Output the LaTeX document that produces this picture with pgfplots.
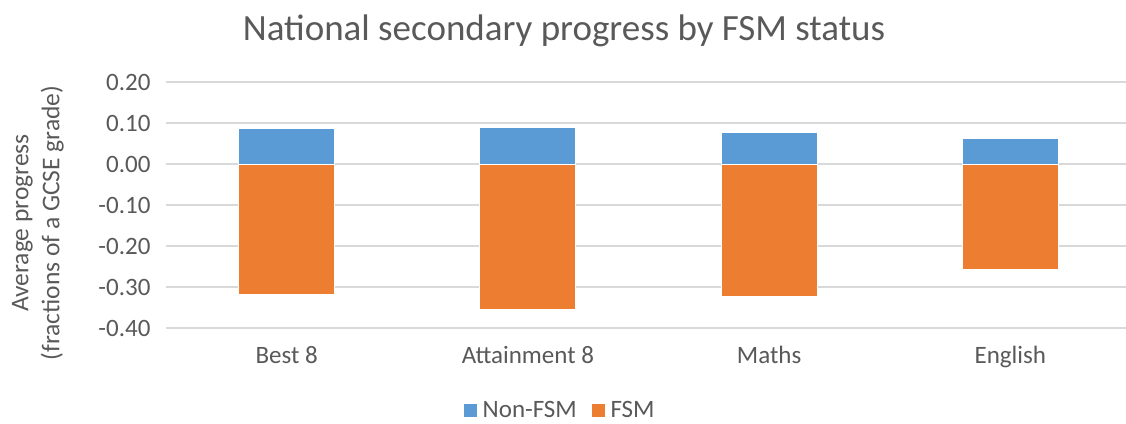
\documentclass[border=0pt]{standalone}
\usepackage{fontspec}
\setmainfont{Carlito}
\usepackage{pgfplots}
\pgfplotsset{compat=1.18}
\definecolor{nonfsm}{HTML}{5B9BD5}
\definecolor{fsm}{HTML}{ED7D31}
\definecolor{txt}{HTML}{595959}
\definecolor{gridc}{HTML}{D9D9D9}

\begin{document}
\begin{tikzpicture}
\path[use as bounding box] (-166pt,-95pt) rectangle (960pt,328pt);
\begin{axis}[
    scale only axis,
    width=965pt, height=246pt,
    at={(0pt,0pt)}, anchor=south west,
    ybar, bar width=96pt, bar shift=0pt,
    ymin=-0.4, ymax=0.2,
    ytick={-0.4,-0.3,-0.2,-0.1,0,0.1,0.2},
    xmin=-0.5, xmax=3.5,
    xtick={0,1,2,3},
    xticklabels={Best 8, Attainment 8, Maths, English},
    axis line style={draw=none},
    major tick length=0pt,
    ymajorgrids,
    grid style={gridc, line width=1.3pt},
    tick label style={font=\fontsize{25}{30}\selectfont, text=txt},
    yticklabel style={xshift=-12pt,
        /pgf/number format/.cd, fixed, fixed zerofill, precision=2,
        assume math mode=true},
    xticklabel style={yshift=-15pt},
    legend columns=2,
    legend style={draw=none, at={(0.408,-0.335)}, anchor=center,
        font=\fontsize{25}{30}\selectfont, text=txt,
        /tikz/every even column/.append style={column sep=12pt}},
    legend image code/.code={
        \fill[#1] (0pt,-7pt) rectangle (14pt,7pt);
        \path (17pt,0pt);},
]
\addplot[fill=nonfsm, draw=white, line width=0.8pt]
    coordinates {(0,0.086) (1,0.090) (2,0.076) (3,0.063)};
\addplot[fill=fsm, draw=white, line width=0.8pt]
    coordinates {(0,-0.318) (1,-0.354) (2,-0.323) (3,-0.257)};
\legend{Non-FSM, FSM}
\end{axis}
\node[anchor=base, text=txt, font=\fontsize{37}{44}\selectfont]
    at (398pt,287pt) {National secondary progress by FSM status};
\node[rotate=90, align=center, text=txt, font=\fontsize{25.5}{31}\selectfont]
    at (-128pt,105pt) {Average progress\\(fractions of a GCSE grade)};
\end{tikzpicture}
\end{document}
